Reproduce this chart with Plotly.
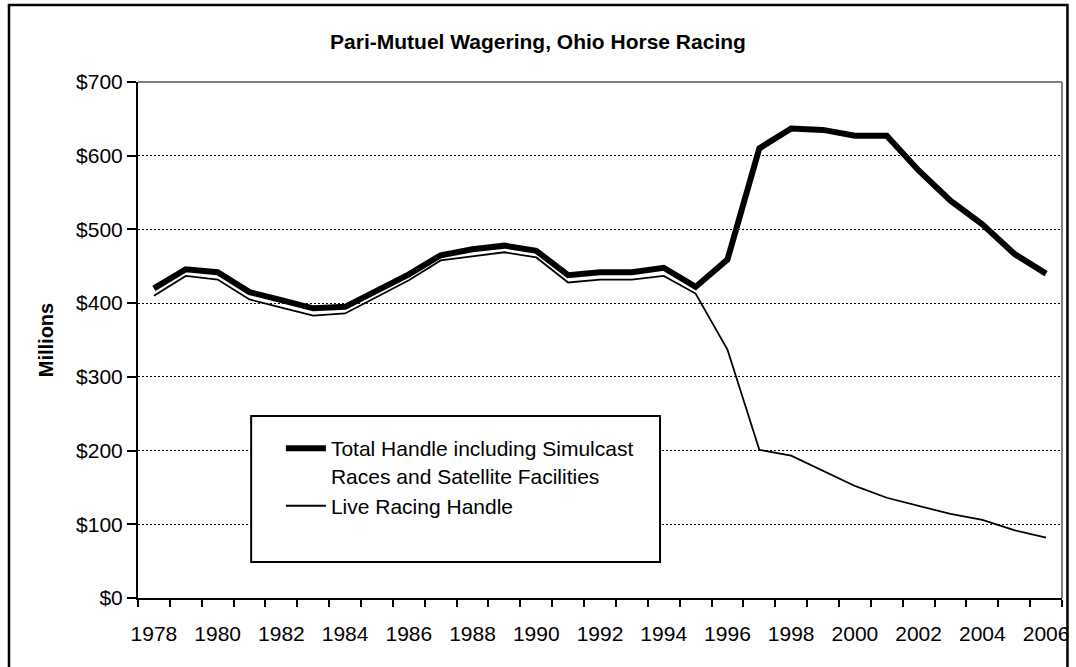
import plotly.graph_objects as go

# ---- data (millions of dollars) ----
years = list(range(1978, 2007))
total_handle = [420, 446, 442, 415, 404, 393, 395, 417, 439, 465, 473, 478, 471, 438,
                442, 442, 448, 422, 459, 610, 637, 635, 627, 627, 580, 539, 507, 467, 440]
live_handle = [410, 437, 432, 405, 394, 383, 386, 409, 431, 458, 464, 469, 462, 428,
               432, 432, 437, 413, 337, 201, 193, 173, 152, 136, 125, 114, 106, 92, 82]
x_label_years = list(range(1978, 2007, 2))
x_label_text = [str(y) for y in x_label_years]
x_boundaries = [y - 0.5 for y in range(1978, 2008)]
y_tick_vals = list(range(0, 701, 100))
y_tick_text = ["$" + str(v) for v in y_tick_vals]

series_total_name = "Total Handle including Simulcast<br>Races and Satellite Facilities"
series_live_name = "Live Racing Handle"
title_text = "<b>Pari-Mutuel Wagering, Ohio Horse Racing</b>"

FONT = "Arial, 'Liberation Sans', sans-serif"

# ---- layout geometry (page pixels) ----
W, H = 1076, 667
PLOT_L, PLOT_R, PLOT_T, PLOT_B = 138, 1069, 82, 598
L, R, T, B = PLOT_L, W - PLOT_R, PLOT_T, H - PLOT_B
PW, PH = W - L - R, H - T - B


def px_x(px):
    return (px - PLOT_L) / PW


def px_y(py):
    return (PLOT_B - py) / PH


fig = go.Figure()
fig.add_trace(go.Scatter(x=years, y=total_handle, mode="lines", name=series_total_name,
                         line=dict(color="black", width=6)))
fig.add_trace(go.Scatter(x=years, y=live_handle, mode="lines", name=series_live_name,
                         line=dict(color="black", width=1.8)))

shapes = [
    # legend frame
    dict(type="rect", xref="paper", yref="paper", x0=px_x(252), x1=px_x(664),
         y0=px_y(562), y1=px_y(416), line=dict(color="black", width=2),
         fillcolor="white", layer="above"),
    # grey plot border (top and right)
    dict(type="line", xref="paper", yref="paper", x0=0, x1=1, y0=1, y1=1,
         line=dict(color="#808080", width=2), layer="above"),
    dict(type="line", xref="paper", yref="paper", x0=1, x1=1, y0=0, y1=1,
         line=dict(color="#808080", width=2), layer="above"),
    # outer chart frame
    dict(type="rect", xref="paper", yref="paper", x0=px_x(8), x1=px_x(1074.5),
         y0=px_y(680), y1=px_y(5), line=dict(color="black", width=2.5),
         layer="above"),
]

fig.update_layout(
    width=W, height=H,
    margin=dict(l=L, r=R, t=T, b=B, pad=0),
    paper_bgcolor="white", plot_bgcolor="white",
    font=dict(family=FONT, size=21, color="black"),
    title=dict(text=title_text, x=0.5, xanchor="center",
               y=1 - 42 / H, yanchor="middle",
               font=dict(family=FONT, size=21, color="black")),
    showlegend=True,
    legend=dict(x=px_x(282), y=px_y(428), xanchor="left", yanchor="top",
                bgcolor="rgba(0,0,0,0)", borderwidth=0, valign="top",
                font=dict(family=FONT, size=21, color="black"),
                tracegroupgap=0, itemwidth=40),
    shapes=shapes,
    hovermode=False,
)

fig.update_xaxes(
    range=[1977.5, 2006.5], showgrid=False, zeroline=False,
    showline=True, linecolor="black", linewidth=2,
    tickmode="array", tickvals=x_label_years, ticktext=x_label_text,
    ticks="outside", ticklen=6, tickcolor="rgba(0,0,0,0)",
    ticklabelstandoff=10, ticklabeloverflow="allow",
    minor=dict(tickmode="array", tickvals=x_boundaries, ticks="outside",
               ticklen=7, tickwidth=2, tickcolor="black", showgrid=False),
    tickfont=dict(family=FONT, size=21, color="black"),
)
fig.update_yaxes(
    range=[0, 700], zeroline=False,
    showline=True, linecolor="black", linewidth=2,
    tickmode="array", tickvals=y_tick_vals, ticktext=y_tick_text,
    ticks="outside", ticklen=9, tickwidth=2, tickcolor="black",
    showgrid=True, gridcolor="black", gridwidth=1, griddash="2px,2px",
    tickfont=dict(family=FONT, size=21, color="black"),
    title=dict(text="<b>Millions</b>", standoff=17,
               font=dict(family=FONT, size=20, color="black")),
)

fig.write_html(
    "out.html",
    config={"displayModeBar": False},
    post_script="document.body.style.margin='0';document.body.style.overflow='hidden';",
)
